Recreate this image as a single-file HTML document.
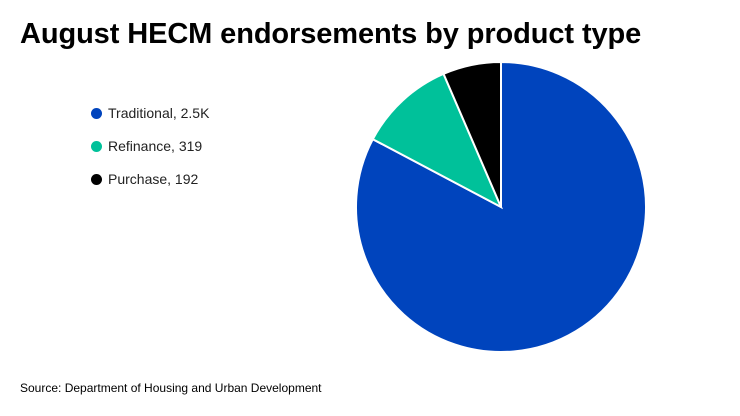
<!DOCTYPE html>
<html><head><meta charset="utf-8"><style>
body{margin:0;width:740px;height:416px;background:#fff;font-family:"Liberation Sans",sans-serif;overflow:hidden;position:relative}
#title{position:absolute;left:20px;top:18px;font-size:29px;font-weight:bold;color:#000;letter-spacing:-0.1px}
#src{position:absolute;left:20px;top:381px;font-size:12px;color:#000}
.leg{position:absolute;left:91px;font-size:14px;color:#222;display:flex;align-items:center}
.dot{width:11px;height:11px;border-radius:50%;margin-right:6px}
</style></head><body>
<div id="title">August HECM endorsements by product type</div>
<div id="legend"></div>
<svg id="pie" width="740" height="416" style="position:absolute;left:0;top:0"></svg>
<div id="src">Source: Department of Housing and Urban Development</div>
<script>
const categories=["Traditional","Refinance","Purchase"];
const values=[2450,319,192];
const labels=["2.5K","319","192"];
const colors=["#0044bd","#00c19a","#000000"];
const cx=501,cy=207,r=145;
const svg=document.getElementById('pie');
const total=values.reduce((a,b)=>a+b,0);
let a0=0;
values.forEach((v,i)=>{
  const a1=a0+v/total*2*Math.PI;
  const p=(a)=>[cx+r*Math.sin(a),cy-r*Math.cos(a)];
  const [x0,y0]=p(a0),[x1,y1]=p(a1);
  const path=document.createElementNS('http://www.w3.org/2000/svg','path');
  path.setAttribute('d',`M${cx},${cy}L${x0},${y0}A${r},${r} 0 ${a1-a0>Math.PI?1:0} 1 ${x1},${y1}Z`);
  path.setAttribute('fill',colors[i]);
  path.setAttribute('stroke','#fff');
  path.setAttribute('stroke-width','2');
  
  
  svg.appendChild(path);
  a0=a1;
});
const leg=document.getElementById('legend');
categories.forEach((c,i)=>{
  const d=document.createElement('div');
  d.className='leg';
  d.style.top=(105+i*33)+'px';
  
  
  d.innerHTML=`<span class="dot" style="background:${colors[i]}"></span>${c}, ${labels[i]}`;
  leg.appendChild(d);
});
</script>
</body></html>
